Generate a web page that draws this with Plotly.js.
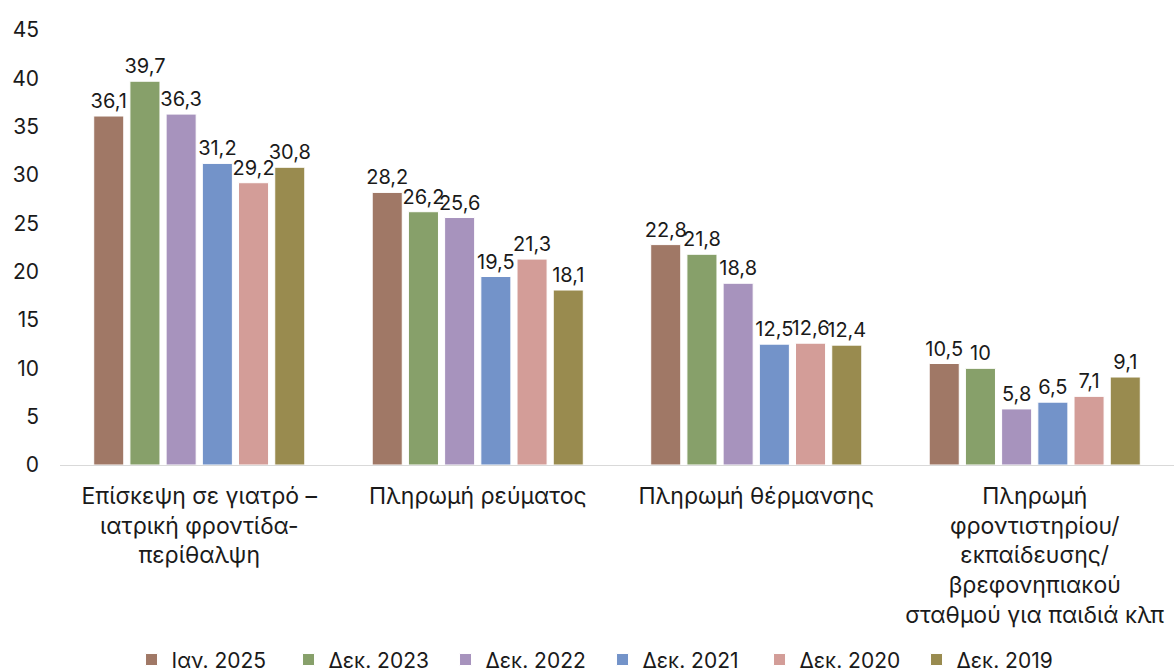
<!DOCTYPE html>
<html>
<head>
<meta charset="utf-8">
<script src="https://cdn.plot.ly/plotly-3.0.1.min.js"></script>
<style>html,body{margin:0;padding:0;background:#fff;}#chart{width:1174px;height:672px;}</style>
</head>
<body>
<div id="chart"></div>
<script>
const categories = [
  "Επίσκεψη σε γιατρό –<br>ιατρική φροντίδα-<br>περίθαλψη",
  "Πληρωμή ρεύματος",
  "Πληρωμή θέρμανσης",
  "Πληρωμή<br>φροντιστηρίου/<br>εκπαίδευσης/<br>βρεφονηπιακού<br>σταθμού για παιδιά κλπ"
];
const seriesNames = ["Ιαν. 2025", "Δεκ. 2023", "Δεκ. 2022", "Δεκ. 2021", "Δεκ. 2020", "Δεκ. 2019"];
const jan2025 = [36.1, 28.2, 22.8, 10.5];
const dec2023 = [39.7, 26.2, 21.8, 10];
const dec2022 = [36.3, 25.6, 18.8, 5.8];
const dec2021 = [31.2, 19.5, 12.5, 6.5];
const dec2020 = [29.2, 21.3, 12.6, 7.1];
const dec2019 = [30.8, 18.1, 12.4, 9.1];
const seriesValues = [jan2025, dec2023, dec2022, dec2021, dec2020, dec2019];
const colors = ["#A07866", "#87A06A", "#A793BD", "#7393C9", "#D39D98", "#998B4F"];

const font = "Inter, 'Noto Sans', sans-serif";
const traces = seriesValues.map((vals, i) => ({
  type: "bar",
  name: seriesNames[i],
  x: categories,
  y: vals,
  text: vals.map(v => String(v).replace(".", ",")),
  textposition: "outside",
  constraintext: "none",
  cliponaxis: false,
  textfont: {family: font, size: 20, color: "#1a1a1a"},
  marker: {color: colors[i], line: {color: "#ffffff", width: 1}},
  hoverinfo: "skip"
}));

const layout = {
  width: 1174,
  height: 672,
  margin: {l: 60, r: 0, t: 30, b: 207, autoexpand: false},
  paper_bgcolor: "#ffffff",
  plot_bgcolor: "#ffffff",
  barmode: "group",
  bargap: 0.22,
  bargroupgap: 0.17,
  font: {family: font, size: 20, color: "#1a1a1a"},
  separators: ",.",
  showlegend: true,
  legend: {
    orientation: "h",
    x: 0.487, xanchor: "center",
    y: -0.448, yanchor: "middle",
    font: {family: font, size: 21, color: "#1a1a1a"},
    itemwidth: 30,
    entrywidth: 112,
    traceorder: "normal"
  },
  xaxis: {
    showgrid: false,
    showline: true,
    linecolor: "#d9d9d9",
    linewidth: 1,
    ticks: "",
    ticklabelstandoff: 10,
    tickfont: {family: font, size: 23, color: "#1a1a1a"},
    automargin: false
  },
  yaxis: {
    range: [0, 45],
    dtick: 5,
    tick0: 0,
    showgrid: false,
    zeroline: false,
    showline: false,
    ticks: "",
    ticklabelstandoff: 20,
    tickfont: {family: font, size: 21, color: "#1a1a1a"},
    automargin: false
  }
};

Plotly.newPlot("chart", traces, layout, {displayModeBar: false, staticPlot: true});
</script>
</body>
</html>
